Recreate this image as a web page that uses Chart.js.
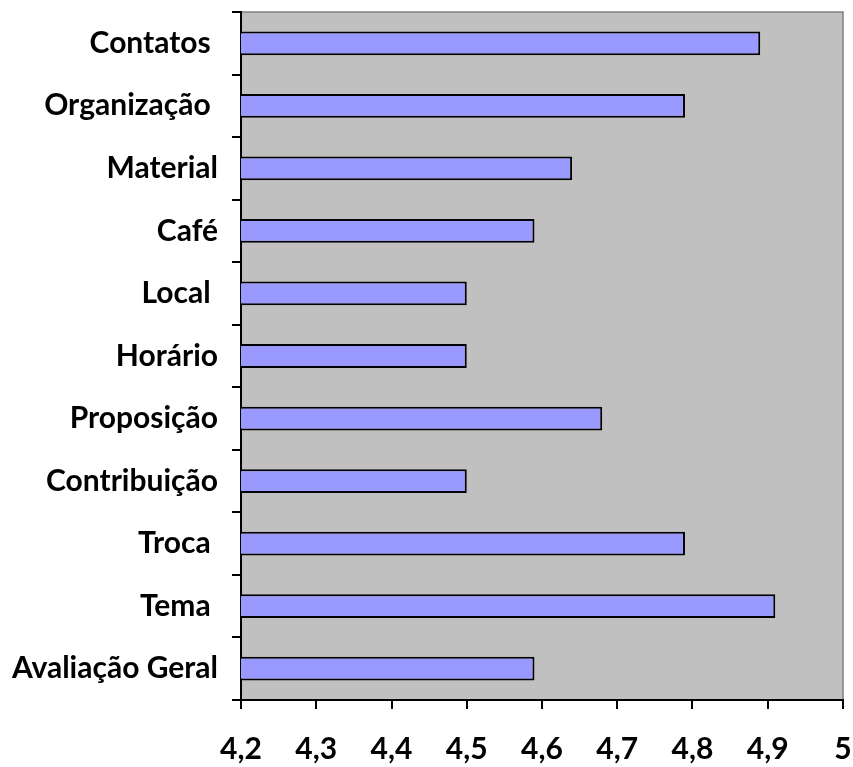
<!DOCTYPE html>
<html>
<head>
<meta charset="utf-8">
<script src="https://cdn.jsdelivr.net/npm/chart.js@4/dist/chart.umd.min.js"></script>
<style>
  html, body { margin: 0; padding: 0; background: #fff; }
  #wrap { width: 853px; height: 767px; }
</style>
</head>
<body>
<div id="wrap"><canvas id="chart"></canvas></div>
<script>
// categories top to bottom
const categories = [
  "Contatos ", "Organização ", "Material", "Café", "Local ", "Horário",
  "Proposição", "Contribuição", "Troca ", "Tema ", "Avaliação Geral"
];
// average scores
const scores = [4.89, 4.79, 4.64, 4.59, 4.5, 4.5, 4.68, 4.5, 4.79, 4.91, 4.59];
const xMin = 4.2;
const xMax = 5;

// grey plot area + grey border top/right
const plotBg = {
  id: "plotBg",
  beforeDraw(chart) {
    const { ctx, chartArea: a } = chart;
    ctx.save();
    ctx.fillStyle = "#c0c0c0";
    ctx.fillRect(a.left, a.top, a.right - a.left, a.bottom - a.top);
    ctx.strokeStyle = "#808080";
    ctx.lineWidth = 1.5;
    ctx.beginPath();
    ctx.moveTo(a.left, a.top);
    ctx.lineTo(a.right, a.top);
    ctx.lineTo(a.right, a.bottom);
    ctx.stroke();
    ctx.restore();
  }
};

function noPad(s) {
  s.paddingLeft = 0;
  s.paddingRight = 0;
  s.paddingTop = 0;
  s.paddingBottom = 0;
}

new Chart("chart", {
  type: "bar",
  data: {
    labels: categories,
    datasets: [
      {
        data: scores,
        backgroundColor: "#9999ff",
        borderColor: "#000",
        borderWidth: 2,
        borderSkipped: false,
        barPercentage: 0.38,
        categoryPercentage: 1
      }
    ]
  },
  plugins: [plotBg],
  options: {
    indexAxis: "y",
    responsive: true,
    maintainAspectRatio: false,
    animation: false,
    layout: { padding: { top: 12, right: 10, left: 0, bottom: 0 } },
    plugins: {
      legend: { display: false },
      tooltip: { enabled: false }
    },
    scales: {
      x: {
        min: xMin,
        max: xMax,
        ticks: {
          stepSize: 0.1,
          color: "#000",
          padding: 22,
          maxRotation: 0,
          font: { family: "Lato", size: 30, weight: "bold" },
          callback: (v) => String(Math.round(v * 10) / 10).replace(".", ",")
        },
        grid: {
          drawOnChartArea: false,
          tickLength: 9,
          color: "#000",
          lineWidth: 2
        },
        border: { color: "#000", width: 2 },
        afterFit: (s) => { s.height = 67; noPad(s); }
      },
      y: {
        offset: true,
        ticks: {
          color: "#000",
          padding: 14,
          font: { family: "Lato", size: 30, weight: "bold" }
        },
        grid: {
          offset: true,
          drawOnChartArea: false,
          tickLength: 9,
          color: "#000",
          lineWidth: 2
        },
        border: { color: "#000", width: 2 },
        afterFit: (s) => { s.width = 241; noPad(s); }
      }
    }
  }
});
</script>
</body>
</html>
